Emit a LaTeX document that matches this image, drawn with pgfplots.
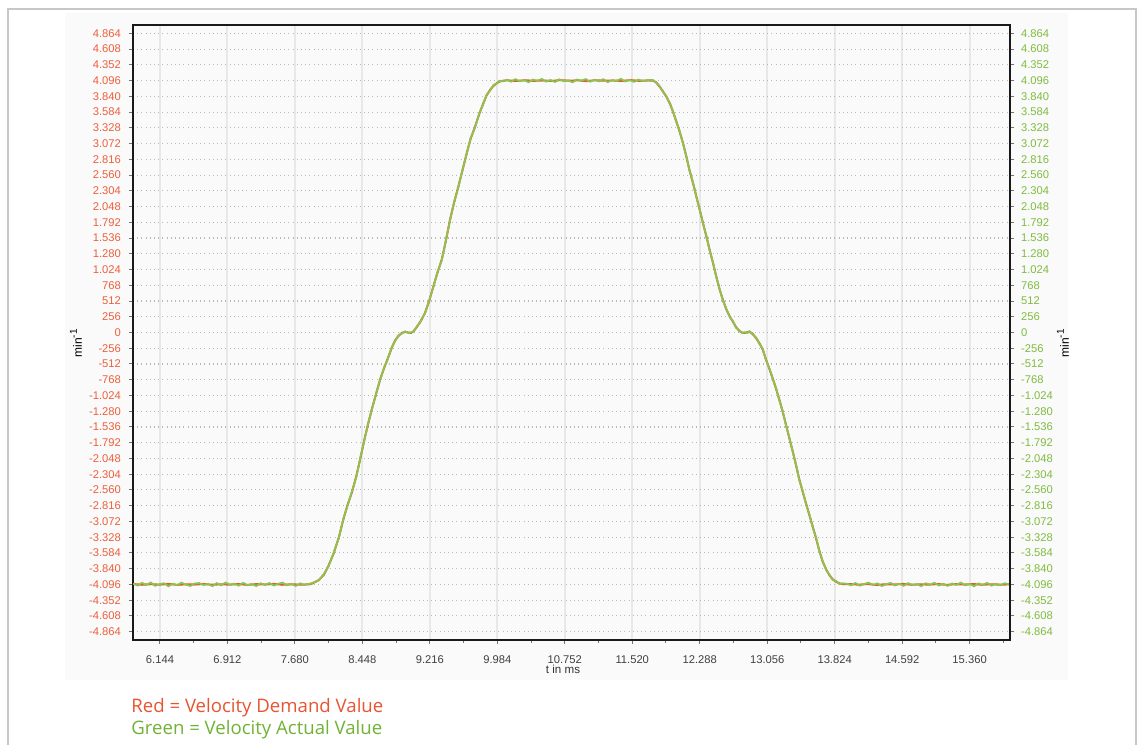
\documentclass[border=0pt]{standalone}
\usepackage{fontspec}
\setmainfont{Liberation Sans}
\newfontfamily\legfont{Open Sans}
\usepackage{pgfplots}
\usepackage{pgfplotstable}
\pgfplotsset{compat=1.18}
\definecolor{tickred}{RGB}{236,96,60}
\definecolor{tickgreen}{RGB}{128,188,64}
\definecolor{legred}{RGB}{232,84,48}
\definecolor{leggreen}{RGB}{112,178,52}
\definecolor{curvegreen}{RGB}{140,196,80}
\definecolor{curvered}{RGB}{222,92,52}

\pgfplotstableread{
t v
5.84 -4090
5.94 -4102
6.04 -4092
6.14 -4100
6.24 -4088
6.34 -4104
6.44 -4094
6.54 -4098
6.64 -4090
6.74 -4102
6.84 -4094
6.94 -4100
7.04 -4090
7.14 -4104
7.24 -4092
7.34 -4098
7.44 -4088
7.54 -4102
7.64 -4094
7.74 -4100
7.84 -4096
7.88 -4080
7.95 -4027
8.007 -3946
8.06 -3800
8.121 -3594
8.18 -3330
8.234 -3026
8.28 -2800
8.330 -2594
8.38 -2330
8.424 -2053
8.481 -1676
8.52 -1450
8.557 -1238
8.61 -970
8.652 -752
8.70 -560
8.727 -460
8.784 -243
8.82 -130
8.859 -55
8.90 -5
8.935 10
8.97 0
9.00 -8
9.03 20
9.068 90
9.10 160
9.125 216
9.162 324
9.21 520
9.257 755
9.30 960
9.352 1188
9.40 1500
9.446 1837
9.49 2100
9.541 2377
9.59 2650
9.636 2918
9.68 3150
9.731 3349
9.78 3560
9.825 3728
9.86 3850
9.901 3944
9.94 4010
9.977 4053
10.01 4080
10.052 4095
10.1 4100
10.2 4090
10.3 4102
10.4 4092
10.5 4098
10.6 4090
10.7 4104
10.8 4094
10.9 4100
11.0 4088
11.1 4102
11.2 4094
11.3 4098
11.4 4090
11.5 4104
11.6 4092
11.7 4098
11.756 4096
11.79 4070
11.832 3997
11.87 3920
11.908 3835
11.95 3720
11.983 3592
12.02 3440
12.059 3268
12.10 3070
12.135 2863
12.17 2650
12.211 2431
12.25 2210
12.287 1999
12.325 1780
12.363 1566
12.40 1350
12.438 1135
12.475 920
12.514 702
12.55 540
12.590 378
12.63 260
12.666 175
12.70 90
12.742 20
12.77 0
12.799 -8
12.83 5
12.855 10
12.89 -20
12.931 -95
12.97 -180
13.006 -280
13.04 -430
13.082 -595
13.12 -750
13.158 -919
13.196 -1100
13.234 -1297
13.27 -1500
13.310 -1730
13.35 -1950
13.385 -2162
13.42 -2380
13.461 -2594
13.50 -2790
13.537 -2973
13.575 -3160
13.613 -3351
13.65 -3550
13.688 -3728
13.73 -3860
13.764 -3946
13.80 -4010
13.840 -4053
13.88 -4080
13.915 -4091
14.0 -4092
14.1 -4100
14.2 -4090
14.3 -4104
14.4 -4094
14.5 -4098
14.6 -4088
14.7 -4102
14.8 -4094
14.9 -4100
15.0 -4090
15.1 -4104
15.2 -4092
15.3 -4098
15.4 -4090
15.5 -4102
15.6 -4094
15.7 -4100
15.82 -4096
}\demand

\pgfplotstableread{
t v
5.84 -4084
5.89 -4114
5.94 -4071
5.99 -4104
6.04 -4066
6.09 -4118
6.14 -4091
6.19 -4078
6.24 -4126
6.29 -4086
6.34 -4108
6.39 -4068
6.44 -4101
6.49 -4121
6.54 -4081
6.59 -4074
6.64 -4106
6.69 -4088
6.74 -4124
6.79 -4076
6.84 -4111
6.89 -4066
6.94 -4099
6.99 -4084
7.04 -4116
7.09 -4071
7.14 -4108
7.19 -4091
7.24 -4122
7.29 -4078
7.34 -4104
7.39 -4074
7.44 -4114
7.49 -4086
7.54 -4068
7.59 -4110
7.64 -4090
7.69 -4120
7.74 -4080
7.79 -4102
7.84 -4090
7.88 -4070
7.95 -4035
8.007 -3930
8.06 -3812
8.121 -3580
8.18 -3342
8.234 -3012
8.28 -2815
8.330 -2580
8.38 -2345
8.424 -2040
8.481 -1690
8.52 -1438
8.557 -1250
8.61 -958
8.652 -765
8.70 -548
8.727 -472
8.784 -232
8.82 -142
8.859 -45
8.90 -15
8.935 18
8.97 -8
9.00 2
9.03 12
9.068 100
9.10 150
9.125 228
9.162 312
9.21 532
9.257 742
9.30 972
9.352 1176
9.40 1512
9.446 1825
9.49 2112
9.541 2365
9.59 2662
9.636 2905
9.68 3162
9.731 3337
9.78 3572
9.825 3716
9.86 3862
9.901 3932
9.94 4022
9.977 4045
10.01 4092
10.052 4085
10.09 4110
10.14 4078
10.19 4118
10.24 4086
10.29 4104
10.34 4070
10.39 4112
10.44 4092
10.49 4122
10.54 4080
10.59 4106
10.64 4074
10.69 4116
10.74 4088
10.79 4100
10.84 4068
10.89 4114
10.94 4094
10.99 4120
11.04 4078
11.09 4108
11.14 4084
11.19 4118
11.24 4072
11.29 4102
11.34 4090
11.39 4124
11.44 4082
11.49 4106
11.54 4076
11.59 4112
11.64 4090
11.69 4104
11.756 4104
11.79 4062
11.832 4008
11.87 3910
11.908 3846
11.95 3708
11.983 3604
12.02 3428
12.059 3280
12.10 3058
12.135 2875
12.17 2638
12.211 2443
12.25 2198
12.287 2011
12.325 1768
12.363 1578
12.40 1338
12.438 1147
12.475 908
12.514 714
12.55 528
12.590 390
12.63 248
12.666 187
12.70 78
12.742 32
12.77 -10
12.799 4
12.83 -6
12.855 22
12.89 -32
12.931 -83
12.97 -192
13.006 -268
13.04 -442
13.082 -583
13.12 -762
13.158 -907
13.196 -1112
13.234 -1285
13.27 -1512
13.310 -1718
13.35 -1962
13.385 -2150
13.42 -2392
13.461 -2582
13.50 -2802
13.537 -2961
13.575 -3172
13.613 -3339
13.65 -3562
13.688 -3716
13.73 -3872
13.764 -3934
13.80 -4022
13.840 -4041
13.88 -4092
13.915 -4079
13.96 -4084
14.01 -4110
14.06 -4074
14.11 -4116
14.16 -4090
14.21 -4068
14.26 -4108
14.31 -4080
14.36 -4122
14.41 -4094
14.46 -4072
14.51 -4112
14.56 -4086
14.61 -4118
14.66 -4076
14.71 -4104
14.76 -4092
14.81 -4124
14.86 -4078
14.91 -4100
14.96 -4070
15.01 -4114
15.06 -4088
15.11 -4120
15.16 -4082
15.21 -4106
15.26 -4066
15.31 -4110
15.36 -4090
15.41 -4126
15.46 -4080
15.51 -4102
15.56 -4072
15.61 -4116
15.66 -4086
15.71 -4108
15.76 -4078
15.82 -4098
}\actual

\pgfplotsset{
  mybase/.style={
    scale only axis,
    width=438.5pt, height=307.5pt,
    at={(66.5pt,52.5pt)}, anchor=south west,
    xmin=5.837, xmax=15.82, ymin=-5000, ymax=5000,
    ytick={-4864,-4608,-4352,-4096,-3840,-3584,-3328,-3072,-2816,-2560,-2304,-2048,-1792,-1536,-1280,-1024,-768,-512,-256,0,256,512,768,1024,1280,1536,1792,2048,2304,2560,2816,3072,3328,3584,3840,4096,4352,4608,4864},
    scaled y ticks=false, scaled x ticks=false,
    /pgf/number format/assume math mode=true,
    /pgf/number format/fixed,
    /pgf/number format/precision=0,
    /pgf/number format/1000 sep={.},
    tick label style={font=\fontsize{5.6}{6}\selectfont},
    tick align=outside,
    major tick length=2pt, minor tick length=1.5pt,
    tick style={black!55, line width=0.5pt},
    axis line style={black!90, line width=1.1pt},
  }
}

\begin{document}
\begin{tikzpicture}
\begin{scope}[x=0.5pt,y=0.5pt]
  \path[use as bounding box] (0,0) rectangle (1137,745);
  \fill[black!2] (65,65) rectangle (1068,732);
  \draw[black!22, line width=0.8pt] (8,-5) -- (8,736) -- (1136,736) -- (1136,-5);
\end{scope}

\begin{axis}[mybase,
  xtick={6.144,6.912,7.680,8.448,9.216,9.984,10.752,11.520,12.288,13.056,13.824,14.592,15.360},
  xticklabels={6.144,6.912,7.680,8.448,9.216,9.984,10.752,11.520,12.288,13.056,13.824,14.592,15.360},
  minor xtick={6.528,7.296,8.064,8.832,9.600,10.368,11.136,11.904,12.672,13.440,14.208,14.976,15.744},
  xtick pos=bottom, ytick pos=left,
  yticklabel style={text=tickred, xshift=-0.5pt},
  xticklabel style={text=black!75, yshift=-2.5pt},
  xmajorgrids, ymajorgrids,
  x grid style={black!9, line width=1pt},
  y grid style={black!28, line width=0.55pt, dash pattern=on 0.5pt off 1.6pt},
]
\addplot[curvered, line width=1pt] table[x=t,y=v] {\demand};
\addplot[curvegreen, line width=0.9pt] table[x=t,y=v] {\actual};
\end{axis}

\begin{axis}[mybase,
  axis y line*=right, axis x line=none,
  axis line style={-},
  ytick pos=right,
  yticklabel style={text=tickgreen},
]
\end{axis}

\begin{scope}[x=0.5pt,y=0.5pt]
  \node[font=\fontsize{5.8}{7}\selectfont, text=black!80] at (563,76) {t in ms};
  \node[rotate=90, font=\fontsize{6}{7}\selectfont] at (76,402) {min\textsuperscript{-1}};
  \node[rotate=90, font=\fontsize{6}{7}\selectfont] at (1063,402) {min\textsuperscript{-1}};
  \node[anchor=base west, inner sep=0pt, text=legred, font=\legfont\fontsize{9.3}{10}\selectfont] at (131,32) {Red = Velocity Demand Value};
  \node[anchor=base west, inner sep=0pt, text=leggreen, font=\legfont\fontsize{9.3}{10}\selectfont] at (131,10) {Green = Velocity Actual Value};
\end{scope}
\end{tikzpicture}
\end{document}
